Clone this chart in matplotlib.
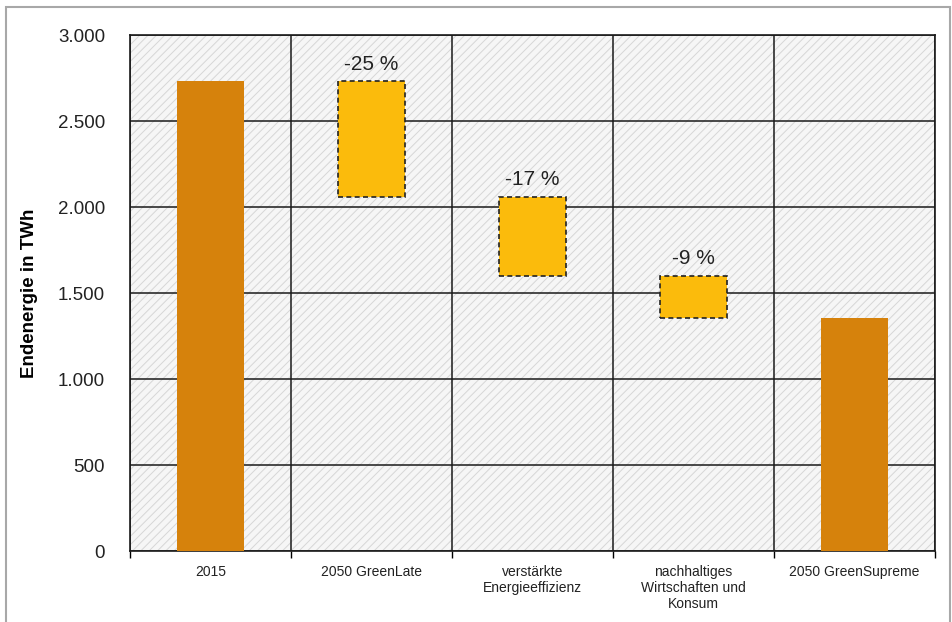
import matplotlib.pyplot as plt
from matplotlib.patches import Rectangle
from matplotlib.ticker import FuncFormatter

plt.rcParams['font.family'] = ['Liberation Sans', 'DejaVu Sans']
plt.rcParams['hatch.linewidth'] = 0.7

# Endenergie in TWh
kategorien = ['2015', '2050 GreenLate', 'verstärkte\nEnergieeffizienz',
              'nachhaltiges\nWirtschaften und\nKonsum', '2050 GreenSupreme']
start_2015 = 2730
# Niveau nach jedem Schritt (GreenLate, Effizienz, nachhaltiger Konsum)
niveaus = [2060, 1600, 1355]
ziel_greensupreme = 1355

farbe_ende = '#d6820c'
farbe_schritt = '#fbbb0c'

fig = plt.figure(figsize=(9.52, 6.22), dpi=100)
ax = fig.add_axes([130 / 952, 1 - 551 / 622, 805 / 952, 516 / 622])

# schraffierter Hintergrund
ax.add_patch(Rectangle((0, 0), 1, 1, transform=ax.transAxes, facecolor='#f6f6f6',
                       edgecolor='#d6d6d6', hatch='////', linewidth=0, zorder=0))

x = list(range(len(kategorien)))
breite = 0.41

# Anfangs- und Endbalken
ax.bar([x[0], x[-1]], [start_2015, ziel_greensupreme], width=breite,
       color=farbe_ende, zorder=3)

# schwebende Balken für die Reduktionsschritte
oben = [start_2015] + niveaus[:-1]
for i, (o, u) in enumerate(zip(oben, niveaus)):
    ax.bar(x[i + 1], o - u, bottom=u, width=breite, color=farbe_schritt,
           edgecolor='#222222', linestyle=(0, (3, 2)), linewidth=1.2, zorder=3)
    prozent = round(100 * (o - u) / start_2015)
    ax.text(x[i + 1], o + 45, f'-{prozent} %', ha='center', va='bottom',
            fontsize=15, color='#222222', zorder=4)

ax.set_xlim(-0.5, len(kategorien) - 0.5)
ax.set_ylim(0, 3000)
ax.set_yticks(range(0, 3001, 500))
ax.yaxis.set_major_formatter(FuncFormatter(lambda v, p: f'{int(v):,}'.replace(',', '.')))
ax.set_xticks(x)
ax.set_xticklabels(kategorien, fontsize=10, linespacing=1.2, color='#222222')
ax.set_xticks([i + 0.5 for i in range(-1, len(kategorien))], minor=True)

ax.tick_params(axis='x', which='major', length=0, pad=10)
ax.tick_params(axis='x', which='minor', length=5, width=1, direction='out')
ax.tick_params(axis='y', length=0, pad=18, labelsize=13.5, labelcolor='#222222')

ax.grid(axis='y', color='#1a1a1a', linewidth=1.1, zorder=1)
ax.grid(axis='x', which='minor', color='#1a1a1a', linewidth=1.1, zorder=1)
ax.set_axisbelow(True)
for s in ax.spines.values():
    s.set_color('#1a1a1a')
    s.set_linewidth(1.2)

ax.set_ylabel('Endenergie in TWh', fontsize=13.5, fontweight='bold', labelpad=14)

# grauer Rahmen um die Grafik
fig.patches.append(Rectangle((6 / 952, -0.05), 944 / 952, 1.05 - 7 / 622,
                             transform=fig.transFigure, fill=False,
                             edgecolor='#a8a8a8', linewidth=1.5))

fig.savefig('out.png', dpi=100, facecolor='white')
